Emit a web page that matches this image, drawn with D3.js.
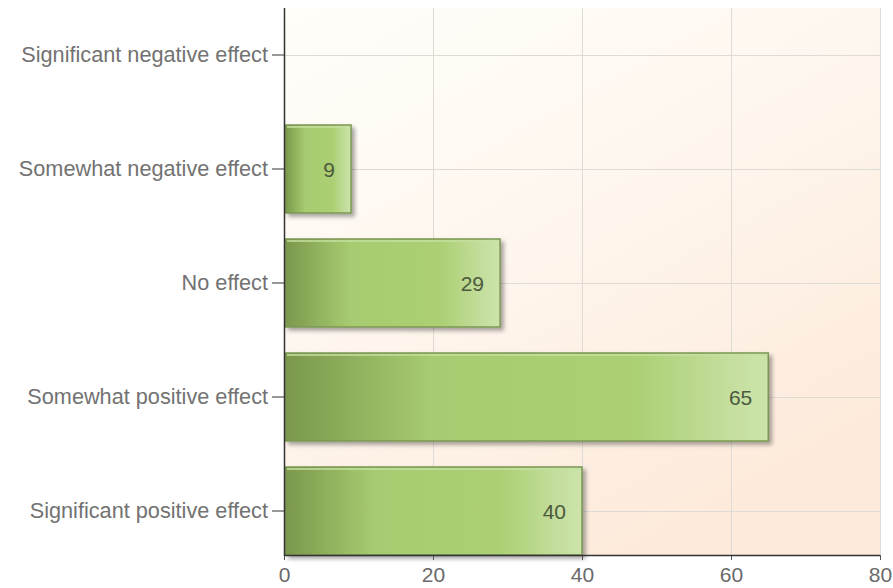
<!DOCTYPE html>
<html>
<head>
<meta charset="utf-8">
<script src="https://cdn.jsdelivr.net/npm/d3@7/dist/d3.min.js"></script>
<style>
  html, body { margin: 0; padding: 0; background: #ffffff; }
  svg { display: block; }
  text { font-family: "Liberation Sans", Arial, sans-serif; }
</style>
</head>
<body>
<svg id="chart" width="893" height="588"></svg>
<script>
// Survey responses: number of people per answer
const categories = [
  "Significant negative effect",
  "Somewhat negative effect",
  "No effect",
  "Somewhat positive effect",
  "Significant positive effect"
];
const counts = [0, 9, 29, 65, 40];
const xTicks = [0, 20, 40, 60, 80];

const svg = d3.select("#chart");
const plot = { left: 284, right: 880, top: 8, bottom: 555 };

const x = d3.scaleLinear().domain([0, 80]).range([plot.left, plot.right]);
const y = d3.scaleBand()
  .domain(categories)
  .range([-2, 568])
  .paddingInner(0.228)
  .paddingOuter(0.114);

const defs = svg.append("defs");

// plot background: near white at top-left fading to peach at bottom-right
const bg = defs.append("linearGradient").attr("id", "bgGrad")
  .attr("x1", "0").attr("y1", "0").attr("x2", "0.6").attr("y2", "1");
bg.append("stop").attr("offset", "0%").attr("stop-color", "#fffefa");
bg.append("stop").attr("offset", "45%").attr("stop-color", "#fef7ef");
bg.append("stop").attr("offset", "100%").attr("stop-color", "#fdeadb");

// bar fill: dark olive on the left, bright green in the middle, pale at the end
const bar = defs.append("linearGradient").attr("id", "barGrad")
  .attr("x1", "0").attr("y1", "0").attr("x2", "1").attr("y2", "0");
[["0%", "#7a984c"], ["30%", "#a7cb70"], ["72%", "#abcf72"],
 ["92%", "#c4de9e"], ["100%", "#cce4aa"]]
  .forEach(([o, c]) => bar.append("stop").attr("offset", o).attr("stop-color", c));

const shadow = defs.append("filter").attr("id", "barShadow")
  .attr("x", "-5%").attr("y", "-10%").attr("width", "115%").attr("height", "130%");
shadow.append("feDropShadow").attr("dx", 3).attr("dy", 3).attr("stdDeviation", 2)
  .attr("flood-color", "#000").attr("flood-opacity", 0.35);

svg.append("rect")
  .attr("x", plot.left).attr("y", plot.top)
  .attr("width", plot.right - plot.left).attr("height", plot.bottom - plot.top)
  .attr("fill", "url(#bgGrad)");

// grid lines
const grid = svg.append("g").attr("stroke", "#dedbd6").attr("stroke-width", 1);
grid.selectAll("line.v").data(xTicks.slice(1)).join("line")
  .attr("x1", d => x(d) + 0.5).attr("x2", d => x(d) + 0.5)
  .attr("y1", plot.top).attr("y2", plot.bottom);
grid.selectAll("line.h").data(categories).join("line")
  .attr("x1", plot.left).attr("x2", plot.right)
  .attr("y1", d => y(d) + y.bandwidth() / 2 + 0.5)
  .attr("y2", d => y(d) + y.bandwidth() / 2 + 0.5);

// bars
const rows = categories.map((c, i) => ({ cat: c, value: counts[i] }));
const shown = rows.filter(d => d.value > 0);
const bars = svg.append("g");
bars.selectAll("rect").data(shown).join("rect")
  .attr("x", x(0) + 1.5)
  .attr("y", d => y(d.cat))
  .attr("width", d => x(d.value) - x(0) - 1.5)
  .attr("height", y.bandwidth())
  .attr("fill", "url(#barGrad)")
  .attr("stroke", "#7b9854")
  .attr("stroke-width", 1.5)
  .attr("filter", "url(#barShadow)");
// thin highlight inside the top edge
bars.selectAll("line").data(shown).join("line")
  .attr("x1", x(0) + 3).attr("x2", d => x(d.value) - 1.5)
  .attr("y1", d => y(d.cat) + 2).attr("y2", d => y(d.cat) + 2)
  .attr("stroke", "#c6e0a0").attr("stroke-width", 1.5);

// value labels near the bar ends
svg.append("g").selectAll("text").data(shown).join("text")
  .attr("x", d => x(d.value) - 16)
  .attr("y", d => y(d.cat) + y.bandwidth() / 2)
  .attr("dy", "0.36em")
  .attr("text-anchor", "end")
  .attr("font-size", 21)
  .attr("fill", "#4c593d")
  .text(d => d.value);

// category axis
const yAxis = svg.append("g")
  .attr("transform", `translate(${plot.left},0)`)
  .call(d3.axisLeft(y).tickSize(12).tickPadding(4));
yAxis.select(".domain").remove();
yAxis.selectAll(".tick line").attr("stroke", "#333");
yAxis.selectAll(".tick text")
  .attr("font-size", 21.7)
  .attr("font-family", "'Liberation Sans', Arial, sans-serif")
  .attr("fill", "#727272");

// value axis
const xAxis = svg.append("g")
  .attr("transform", `translate(0,${plot.bottom})`)
  .call(d3.axisBottom(x).tickValues(xTicks).tickSize(5).tickPadding(7));
xAxis.select(".domain").remove();
xAxis.selectAll(".tick line").attr("stroke", "#555");
xAxis.selectAll(".tick text")
  .attr("font-size", 21)
  .attr("font-family", "'Liberation Sans', Arial, sans-serif")
  .attr("fill", "#6a6a6a");

// axis lines
svg.append("line")
  .attr("x1", plot.left + 0.5).attr("x2", plot.left + 0.5)
  .attr("y1", plot.top).attr("y2", plot.bottom + 1)
  .attr("stroke", "#333").attr("stroke-width", 1.5);
svg.append("line")
  .attr("x1", plot.left).attr("x2", plot.right)
  .attr("y1", plot.bottom + 0.5).attr("y2", plot.bottom + 0.5)
  .attr("stroke", "#333").attr("stroke-width", 1.5);
</script>
</body>
</html>
